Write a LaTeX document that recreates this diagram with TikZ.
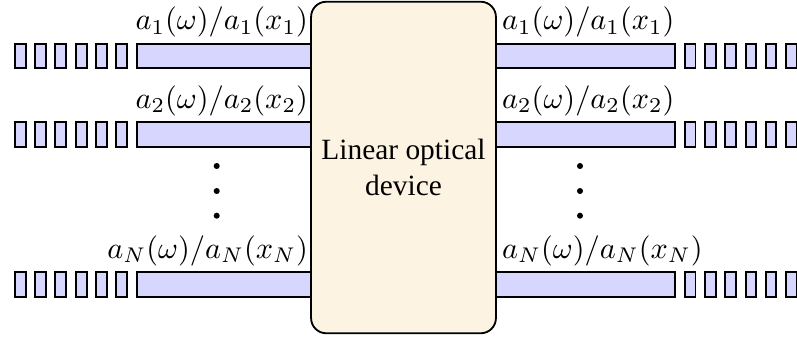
\documentclass[tikz,border=0pt]{standalone}
\usepackage{amsmath}
\usepackage[no-math]{fontspec}
\setmainfont{Liberation Serif}
\usepackage{xcolor}
\usepackage{tikz}
\usetikzlibrary{positioning, calc}

\definecolor{guidefill}{RGB}{214,214,255}
\definecolor{devfill}{RGB}{253,243,226}

\tikzset{
  guide/.style={draw, fill=guidefill, line width=0.6pt},
  device/.style={draw, fill=devfill, line width=0.6pt, rounded corners=5pt,
    align=center, minimum width=61pt, minimum height=109.4pt, inner sep=0pt},
  modelabel/.style={inner xsep=0.5pt, inner ysep=2pt},
  dotmark/.style={fill=black, circle, inner sep=0pt, minimum size=2pt}
}

\begin{document}
\begin{tikzpicture}[x=0.33pt, y=0.33pt]
      \useasboundingbox (0,0) rectangle (797,337);

      % waveguides, input side and output side
      \foreach \y/\i in {281/1, 202.5/2, 52.5/N} {
        \draw[guide] (136.7,\y-12.2) rectangle (320,\y+12.2);
        \draw[guide] (490,\y-12.2) rectangle (675,\y+12.2);
        \foreach \k in {0,...,5} {
          \draw[guide] (15+20.2*\k,\y-12.2) rectangle (26+20.2*\k,\y+12.2);
          \draw[guide] (685+20.2*\k,\y-12.2) rectangle (695.5+20.2*\k,\y+12.2);
        }
        \node[modelabel, anchor=south east] (lin\i) at (310,\y+12.2) {$a_{\i}(\omega)/a_{\i}(x_{\i})$};
        \node[modelabel, anchor=south west] (lout\i) at (500,\y+12.2) {$a_{\i}(\omega)/a_{\i}(x_{\i})$};
      }

      \node[device, font=\fontsize{9.7pt}{11.8pt}\selectfont] (dev) at (403.5,169.5) {Linear optical\\device};

      % vertical dots
      \foreach \y [count=\n] in {171, 146, 121.3} {
        \node[dotmark] (dl\n) at (216.7,\y) {};
        \node[dotmark] (dr\n) at (580,\y) {};
      }
    \end{tikzpicture}
\end{document}
